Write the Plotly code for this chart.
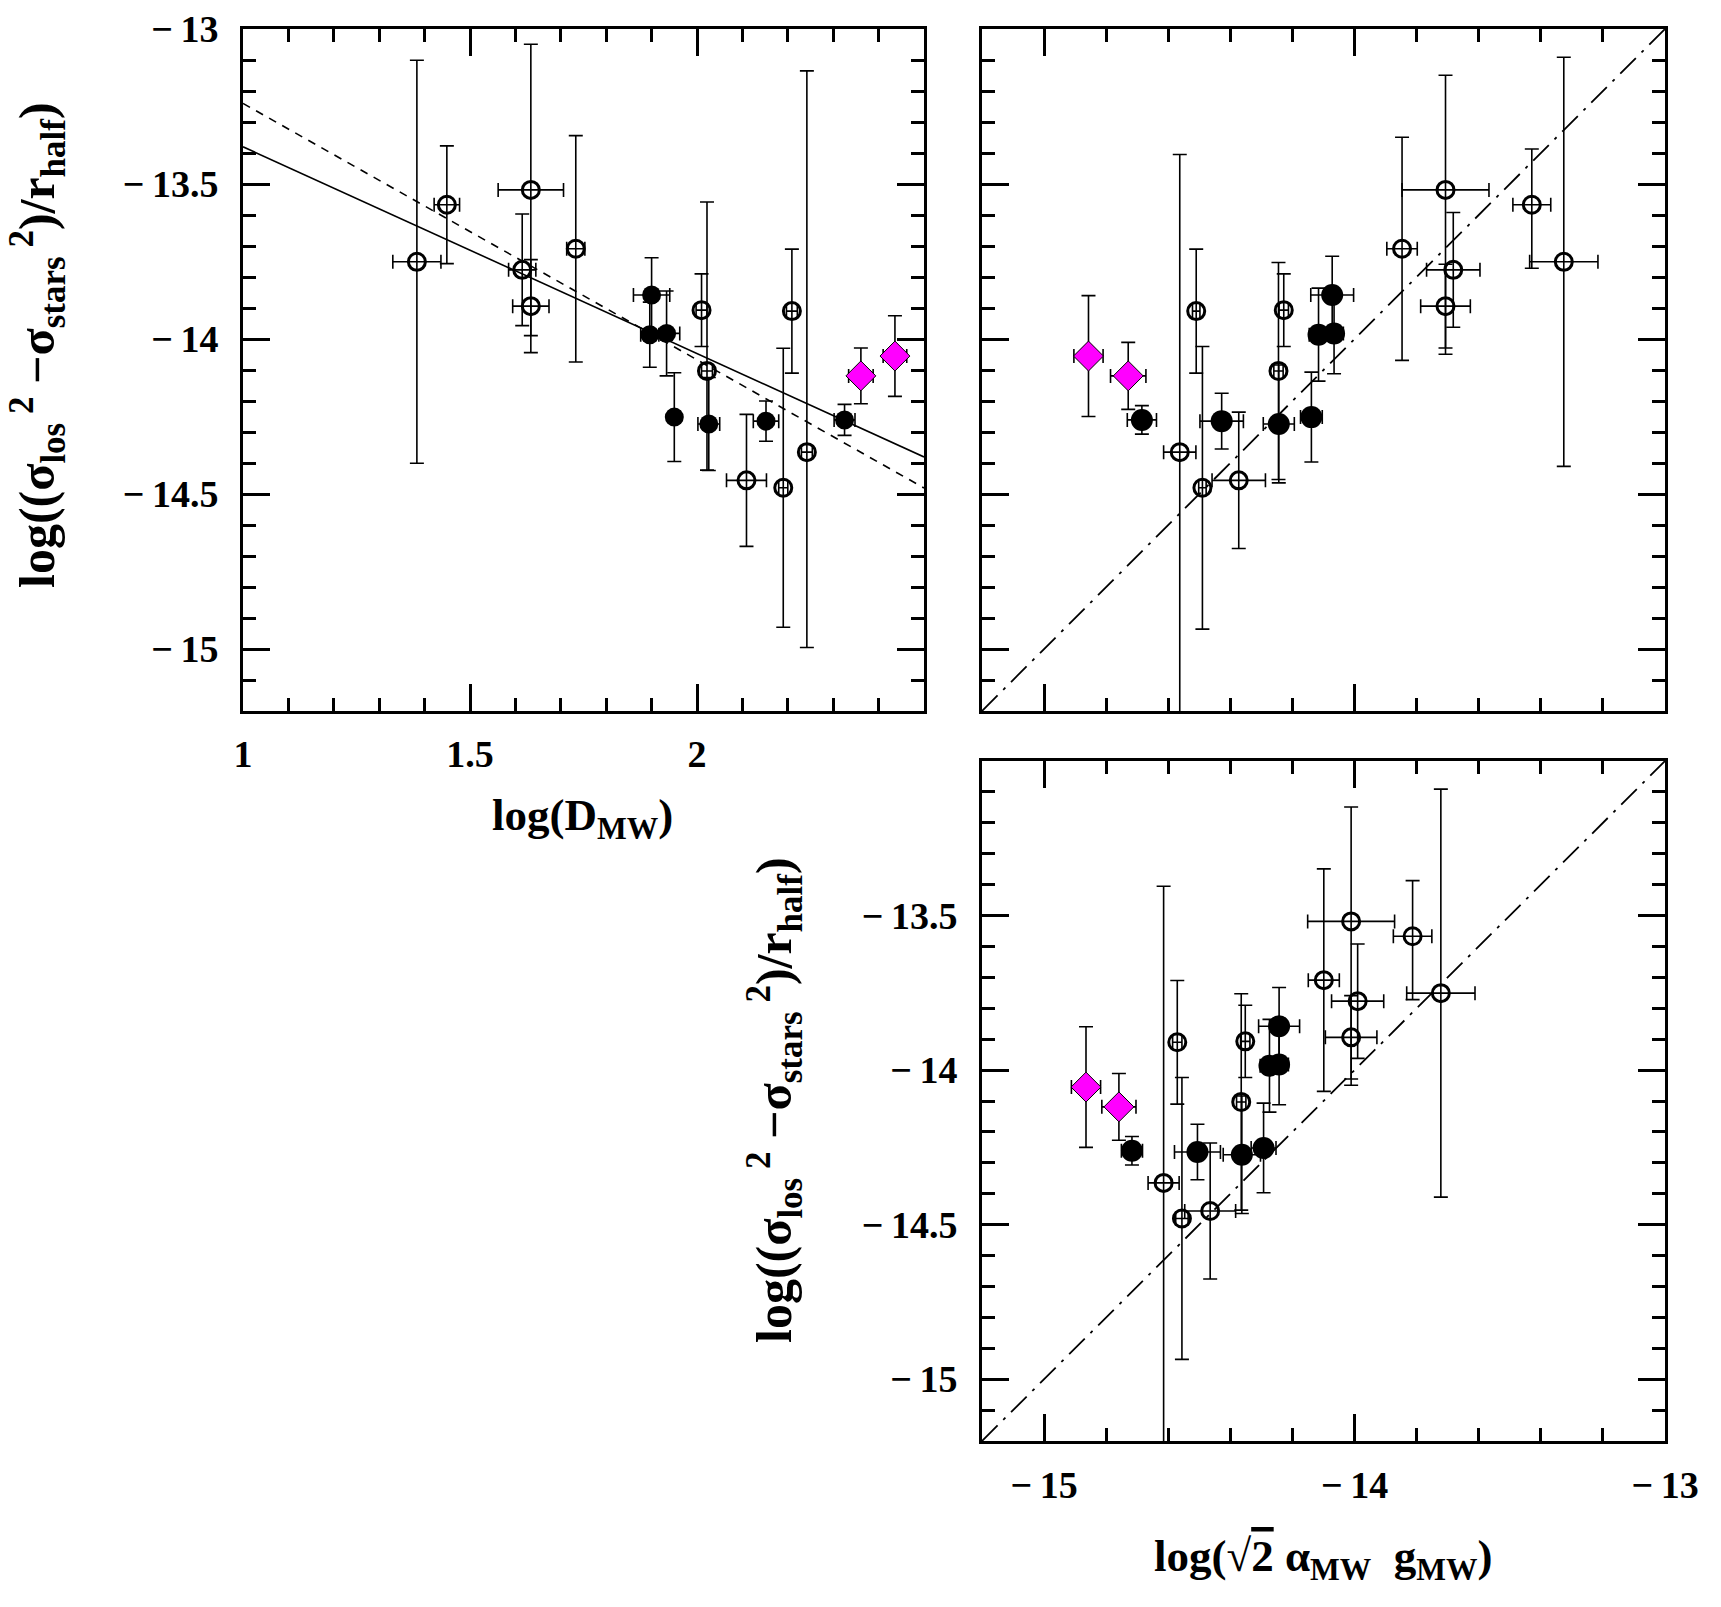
import plotly.graph_objects as go

# ---------------- data ----------------
# point type: o = open circle, f = filled circle, m = magenta diamond
kind = ['o', 'o', 'o', 'o', 'o', 'o', 'f', 'f', 'f', 'f', 'o',
        'o', 'f', 'o', 'f', 'o', 'o', 'o', 'f', 'm', 'm']

# log((sigma_los^2 - sigma_stars^2)/r_half)
sig_y = [-13.751, -13.567, -13.519, -13.777, -13.894, -13.709, -13.858,
         -13.986, -13.982, -14.252, -13.907, -14.103, -14.274, -14.456,
         -14.265, -14.480, -13.910, -14.365, -14.261, -14.119, -14.055]

# panel 1 (x = log D_MW)
logD = [1.383, 1.449, 1.634, 1.615, 1.634, 1.733, 1.900, 1.896, 1.933,
        1.950, 2.010, 2.022, 2.026, 2.109, 2.152, 2.190, 2.209, 2.242,
        2.325, 2.361, 2.436]
logD_err = [0.053, 0.028, 0.072, 0.030, 0.040, 0.020, 0.040, 0.020, 0.029,
            0.012, 0.012, 0.012, 0.024, 0.044, 0.028, 0.010, 0.012, 0.012,
            0.023, 0.027, 0.026]
sigD_err_plus = [0.65, 0.19, 0.47, 0.18, 0.15, 0.365, 0.12, 0.105, 0.137,
                 0.143, 0.117, 0.545, 0.15, 0.213, 0.065, 0.45, 0.20, 1.23,
                 0.05, 0.09, 0.13]
sigD_err_minus = [0.65, 0.19, 0.47, 0.18, 0.15, 0.365, 0.12, 0.105, 0.137,
                  0.143, 0.117, 0.32, 0.15, 0.213, 0.065, 0.45, 0.20, 0.63,
                  0.05, 0.09, 0.13]

# panel 2 (top right) x values
logG_a = [-13.326, -13.429, -13.707, -13.682, -13.707, -13.847, -14.072,
          -14.116, -14.066, -14.139, -14.228, -14.245, -14.244, -14.373,
          -14.428, -14.490, -14.510, -14.563, -14.685, -14.729, -14.857]
logG_a_err = [0.11, 0.061, 0.14, 0.086, 0.08, 0.049, 0.069, 0.03, 0.03,
              0.035, 0.015, 0.015, 0.05, 0.086, 0.07, 0.012, 0.012, 0.052,
              0.047, 0.057, 0.047]

# panel 3 (bottom right) x values
logG_b = [-13.722, -13.813, -14.011, -13.990, -14.011, -14.099, -14.243,
          -14.274, -14.243, -14.293, -14.352, -14.365, -14.363, -14.465,
          -14.506, -14.556, -14.571, -14.615, -14.717, -14.759, -14.865]
logG_b_err = [0.11, 0.062, 0.14, 0.084, 0.083, 0.05, 0.066, 0.03, 0.03,
              0.04, 0.015, 0.015, 0.06, 0.082, 0.074, 0.02, 0.015, 0.05,
              0.034, 0.055, 0.047]

sigG_err_plus = [0.66, 0.18, 0.37, 0.185, 0.135, 0.36, 0.125, 0.15, 0.13,
                 0.145, 0.117, 0.35, 0.19, 0.22, 0.09, 0.456, 0.20, 0.96,
                 0.046, 0.108, 0.195]
sigG_err_minus = [0.66, 0.205, 0.53, 0.185, 0.135, 0.36, 0.125, 0.15, 0.13,
                  0.145, 0.117, 0.35, 0.19, 0.22, 0.09, 0.456, 0.20, 1.0,
                  0.046, 0.108, 0.195]

# fit lines in panel 1: (intercept, slope)
fit_solid = (-12.713, -0.667)
fit_dashed = (-12.413, -0.827)

# axis ranges / ticks
d_range = [1.0, 2.5]
g_range = [-15.2, -13.0]
y_range = [-15.2, -13.0]
d_ticks = [1.0, 1.5, 2.0, 2.5]
d_ticktext = ['1', '1.5', '2', '']
g_ticks = [-15, -14, -13]
g_ticktext = ['\u2212\u200915', '\u2212\u200914', '\u2212\u200913']
y_ticks = [-15, -14.5, -14, -13.5, -13]
y_ticktext1 = ['\u2212\u200915', '\u2212\u200914.5', '\u2212\u200914',
               '\u2212\u200913.5', '\u2212\u200913']
y_ticktext3 = ['\u2212\u200915', '\u2212\u200914.5', '\u2212\u200914',
               '\u2212\u200913.5', '']

# ---------------- figure ----------------
W, H = 1721, 1607
FONT = "Liberation Serif"

fig = go.Figure()

styles = {
    'o': dict(symbol='circle-open', size=17, color='black',
              line=dict(width=3, color='black')),
    'f': dict(symbol='circle', size=19, color='black',
              line=dict(width=0, color='black')),
    'm': dict(symbol='diamond', size=23, color='#ff00ff',
              line=dict(width=1, color='black')),
}
big_filled = dict(symbol='circle', size=22, color='black',
                  line=dict(width=0, color='black'))


def add_points(xs, xerr, yp, ym, xa, ya, filled_style):
    for k in ['o', 'f', 'm']:
        idx = [i for i, t in enumerate(kind) if t == k]
        mk = styles[k] if k != 'f' else filled_style
        fig.add_trace(go.Scatter(
            x=[xs[i] for i in idx], y=[sig_y[i] for i in idx],
            mode='markers', marker=mk, xaxis=xa, yaxis=ya,
            showlegend=False,
            error_x=dict(type='data', array=[xerr[i] for i in idx],
                         color='black', thickness=1.6, width=7),
            error_y=dict(type='data', symmetric=False,
                         array=[yp[i] for i in idx],
                         arrayminus=[ym[i] for i in idx],
                         color='black', thickness=1.6, width=7),
        ))


# panel 1 fit lines
for (a, b), dash in [(fit_solid, 'solid'), (fit_dashed, '8px,7px')]:
    fig.add_trace(go.Scatter(
        x=d_range, y=[a + b * v for v in d_range], mode='lines',
        line=dict(color='black', width=1.6, dash=dash),
        xaxis='x', yaxis='y', showlegend=False, hoverinfo='skip'))

# 1:1 lines in panels 2 and 3
for xa, ya in [('x2', 'y2'), ('x3', 'y3')]:
    fig.add_trace(go.Scatter(
        x=g_range, y=g_range, mode='lines',
        line=dict(color='black', width=1.8, dash='22px,8px,3px,8px'),
        xaxis=xa, yaxis=ya, showlegend=False, hoverinfo='skip'))

add_points(logD, logD_err, sigD_err_plus, sigD_err_minus, 'x', 'y',
           styles['f'])
add_points(logG_a, logG_a_err, sigG_err_plus, sigG_err_minus, 'x2', 'y2',
           big_filled)
add_points(logG_b, logG_b_err, sigG_err_plus, sigG_err_minus, 'x3', 'y3',
           big_filled)

tickfont = dict(family=FONT, size=38, color='black', weight='bold')


def axis(domain, rng, tickvals, ticktext, minor_dtick, minor_tick0,
         showlabels, anchor, standoff):
    return dict(
        domain=domain, range=rng, anchor=anchor, automargin=False,
        showline=True, linewidth=3, linecolor='black', mirror='allticks',
        ticks='inside', ticklen=27, tickwidth=3, tickcolor='black',
        tickmode='array', tickvals=tickvals, ticktext=ticktext,
        showticklabels=showlabels, tickfont=tickfont,
        ticklabelstandoff=standoff,
        minor=dict(ticks='inside', ticklen=13, tickwidth=3,
                   tickcolor='black', dtick=minor_dtick, tick0=minor_tick0,
                   showgrid=False),
        showgrid=False, zeroline=False, fixedrange=True,
    )


x1dom = [243 / W, 924 / W]
x2dom = [982 / W, 1665 / W]
ytop = [1 - 711 / H, 1 - 29 / H]
ybot = [1 - 1441 / H, 1 - 761 / H]

fig.update_layout(
    width=W, height=H, autosize=False,
    margin=dict(l=0, r=0, t=0, b=0, pad=0, autoexpand=False),
    paper_bgcolor='white', plot_bgcolor='white',
    xaxis=axis(x1dom, d_range, d_ticks, d_ticktext, 0.1, 1.0, True, 'y', 7),
    yaxis=axis(ytop, y_range, y_ticks, y_ticktext1, 0.1, -15.0, True, 'x', 14),
    xaxis2=axis(x2dom, g_range, g_ticks, g_ticktext, 0.2, -15.0, False,
                'y2', 7),
    yaxis2=axis(ytop, y_range, y_ticks, y_ticktext1, 0.1, -15.0, False,
                'x2', 14),
    xaxis3=axis(x2dom, g_range, g_ticks, g_ticktext, 0.2, -15.0, True,
                'y3', 8),
    yaxis3=axis(ybot, y_range, y_ticks, y_ticktext3, 0.1, -15.0, True,
                'x3', 14),
)

ytitle_font = dict(family=FONT, size=50, color='black', weight='bold')
xtitle_font = dict(family=FONT, size=45, color='black', weight='bold')
ytitle = ("log((\u03c3<sub>los</sub><sup> 2</sup> \u2212\u03c3<sub>stars</sub>"
          "<sup> 2</sup>)/r<sub>half</sub>)")
fig.add_annotation(text=ytitle, x=38 / W, y=1 - 345 / H, xref='paper',
                   yref='paper', textangle=-90, showarrow=False,
                   font=ytitle_font, xanchor='center', yanchor='middle')
fig.add_annotation(text=ytitle, x=774 / W, y=1 - 1100 / H, xref='paper',
                   yref='paper', textangle=-90, showarrow=False,
                   font=ytitle_font, xanchor='center', yanchor='middle')
fig.add_annotation(text="log(D<sub>MW</sub>)", x=582 / W, y=1 - 818 / H,
                   xref='paper', yref='paper', showarrow=False,
                   font=xtitle_font, xanchor='center', yanchor='middle')
fig.add_annotation(
    text=("log(\u221a<span style='text-decoration:overline'>2</span> "
          "\u03b1<sub>MW</sub>  g<sub>MW</sub>)"),
    x=1323 / W, y=1 - 1559 / H, xref='paper', yref='paper', showarrow=False,
    font=xtitle_font, xanchor='center', yanchor='middle')

fig.write_html("out.html")
